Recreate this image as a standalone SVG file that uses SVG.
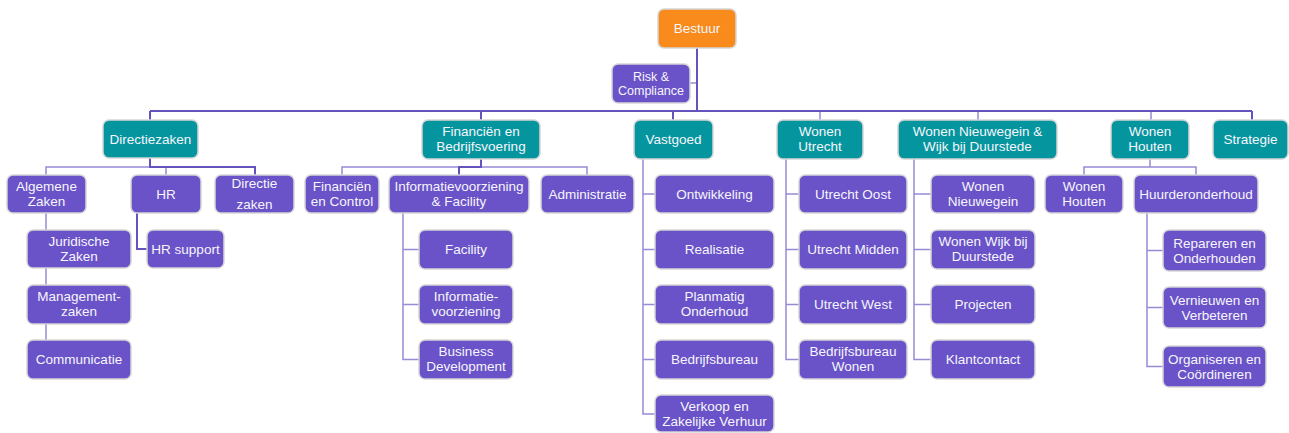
<svg xmlns="http://www.w3.org/2000/svg" width="1289" height="433" viewBox="0 0 1289 433">
<style>
rect{stroke:#d6d6d6;stroke-width:1.5}
.o{fill:#f88b1c}
.t{fill:#05959f}
.p{fill:#6a52c8}
text{font-family:"Liberation Sans",Arial,sans-serif;font-size:13.5px;fill:#f6f6fb;text-anchor:middle;dominant-baseline:central}
.s{font-size:12.5px}
.dk{fill:none;stroke:#6652bd;stroke-width:2}
.lt{fill:none;stroke:#978bd6;stroke-width:1.5}
</style>
<g id="connectors">
<path class="lt" d="M690,83H697"/>
<path class="lt" d="M820,111V120M978,111V120M1151,111V120"/>
<path class="dk" d="M697,48V111M150,111H1252M150,111V120M481,111V120M673,111V120M1252,111V120"/>
<path class="lt" d="M150,167H46V175M166,167V175"/>
<path class="dk" d="M150,158V167H255V175"/>
<path class="dk" d="M137,213V249H147"/>
<path class="lt" d="M46,213V359.5H27M46,249H27M46,304.5H27"/>
<path class="lt" d="M342,175V167H587V175"/>
<path class="dk" d="M481,159V167H459V175"/>
<path class="lt" d="M403,213V359.5H419M403,249.5H419M403,304.5H419"/>
<path class="lt" d="M643,159V414H655M643,194H655M643,249.5H655M643,304.5H655M643,359.5H655"/>
<path class="lt" d="M786,159V359.5H799M786,194H799M786,249.5H799M786,304.5H799"/>
<path class="lt" d="M914,159V359.5H931M914,194H931M914,249.5H931M914,304.5H931"/>
<path class="lt" d="M1150,159V167M1084,175V167H1196V175"/>
<path class="lt" d="M1147,213V366.5H1163M1147,250.5H1163M1147,307.5H1163"/>
</g>
<g id="bestuur"><rect class="o" x="658" y="9" width="78" height="39" rx="6"/><text x="697" y="28.5">Bestuur</text></g>
<g id="risk-compliance"><rect class="p" x="612" y="64" width="78" height="39" rx="6"/><text class="s" x="651" y="77">Risk &amp;</text><text class="s" x="651" y="91">Compliance</text></g>
<g id="directiezaken"><rect class="t" x="103" y="120" width="95" height="38" rx="6"/><text x="150.5" y="139">Directiezaken</text></g>
<g id="financien-bedrijfsvoering"><rect class="t" x="422" y="120" width="118" height="39" rx="6"/><text x="481" y="131">Financiën en</text><text x="481" y="146">Bedrijfsvoering</text></g>
<g id="vastgoed"><rect class="t" x="634" y="120" width="79" height="39" rx="6"/><text x="673.5" y="139">Vastgoed</text></g>
<g id="wonen-utrecht"><rect class="t" x="777" y="120" width="86" height="39" rx="6"/><text x="820" y="131">Wonen</text><text x="820" y="146">Utrecht</text></g>
<g id="wonen-nieuwegein-wijk"><rect class="t" x="898" y="120" width="159" height="39" rx="6"/><text x="977.5" y="131">Wonen Nieuwegein &amp;</text><text x="977.5" y="146">Wijk bij Duurstede</text></g>
<g id="wonen-houten"><rect class="t" x="1111" y="120" width="78" height="39" rx="6"/><text x="1150" y="131">Wonen</text><text x="1150" y="146">Houten</text></g>
<g id="strategie"><rect class="t" x="1213" y="120" width="75" height="39" rx="6"/><text x="1250.5" y="139">Strategie</text></g>
<g id="algemene-zaken"><rect class="p" x="7" y="175" width="79" height="38" rx="6"/><text x="46.5" y="186">Algemene</text><text x="46.5" y="201">Zaken</text></g>
<g id="hr"><rect class="p" x="131" y="175" width="70" height="38" rx="6"/><text x="166" y="194">HR</text></g>
<g id="directie-zaken"><rect class="p" x="215" y="175" width="79" height="38" rx="6"/><text x="254.5" y="183">Directie</text><text x="254.5" y="204">zaken</text></g>
<g id="financien-control"><rect class="p" x="305" y="175" width="74" height="38" rx="6"/><text x="342" y="186">Financiën</text><text x="342" y="201">en Control</text></g>
<g id="informatievoorziening-facility"><rect class="p" x="389" y="175" width="140" height="38" rx="6"/><text x="459" y="186">Informatievoorziening</text><text x="459" y="201">&amp; Facility</text></g>
<g id="administratie"><rect class="p" x="541" y="175" width="93" height="38" rx="6"/><text x="587.5" y="194">Administratie</text></g>
<g id="ontwikkeling"><rect class="p" x="655" y="175" width="119" height="38" rx="6"/><text x="714.5" y="194">Ontwikkeling</text></g>
<g id="utrecht-oost"><rect class="p" x="799" y="175" width="108" height="38" rx="6"/><text x="853" y="194">Utrecht Oost</text></g>
<g id="wonen-nieuwegein"><rect class="p" x="931" y="175" width="104" height="38" rx="6"/><text x="983" y="186">Wonen</text><text x="983" y="201">Nieuwegein</text></g>
<g id="wonen-houten-2"><rect class="p" x="1045" y="175" width="78" height="38" rx="6"/><text x="1084" y="186">Wonen</text><text x="1084" y="201">Houten</text></g>
<g id="huurderonderhoud"><rect class="p" x="1134" y="175" width="124" height="38" rx="6"/><text x="1196" y="194">Huurderonderhoud</text></g>
<g id="juridische-zaken"><rect class="p" x="27" y="230" width="104" height="38" rx="6"/><text x="79" y="241">Juridische</text><text x="79" y="256">Zaken</text></g>
<g id="managementzaken"><rect class="p" x="27" y="285" width="104" height="39" rx="6"/><text x="79" y="296">Management-</text><text x="79" y="311">zaken</text></g>
<g id="communicatie"><rect class="p" x="27" y="340" width="104" height="39" rx="6"/><text x="79" y="359.5">Communicatie</text></g>
<g id="hr-support"><rect class="p" x="147" y="230" width="77" height="38" rx="6"/><text x="185.5" y="249">HR support</text></g>
<g id="facility"><rect class="p" x="419" y="230" width="94" height="39" rx="6"/><text x="466" y="249.5">Facility</text></g>
<g id="informatie-voorziening"><rect class="p" x="419" y="285" width="94" height="39" rx="6"/><text x="466" y="296">Informatie-</text><text x="466" y="311">voorziening</text></g>
<g id="business-development"><rect class="p" x="419" y="340" width="94" height="39" rx="6"/><text x="466" y="351">Business</text><text x="466" y="366">Development</text></g>
<g id="realisatie"><rect class="p" x="655" y="230" width="119" height="39" rx="6"/><text x="714.5" y="249.5">Realisatie</text></g>
<g id="planmatig-onderhoud"><rect class="p" x="655" y="285" width="119" height="39" rx="6"/><text x="714.5" y="296">Planmatig</text><text x="714.5" y="311">Onderhoud</text></g>
<g id="bedrijfsbureau"><rect class="p" x="655" y="340" width="119" height="39" rx="6"/><text x="714.5" y="359.5">Bedrijfsbureau</text></g>
<g id="verkoop-verhuur"><rect class="p" x="655" y="395" width="119" height="37" rx="6"/><text x="714.5" y="406">Verkoop en</text><text x="714.5" y="421">Zakelijke Verhuur</text></g>
<g id="utrecht-midden"><rect class="p" x="799" y="230" width="108" height="39" rx="6"/><text x="853" y="249.5">Utrecht Midden</text></g>
<g id="utrecht-west"><rect class="p" x="799" y="285" width="108" height="39" rx="6"/><text x="853" y="304.5">Utrecht West</text></g>
<g id="bedrijfsbureau-wonen"><rect class="p" x="799" y="340" width="108" height="39" rx="6"/><text x="853" y="351">Bedrijfsbureau</text><text x="853" y="366">Wonen</text></g>
<g id="wonen-wijk-bij-duurstede"><rect class="p" x="931" y="230" width="104" height="39" rx="6"/><text x="983" y="241">Wonen Wijk bij</text><text x="983" y="256">Duurstede</text></g>
<g id="projecten"><rect class="p" x="931" y="285" width="104" height="39" rx="6"/><text x="983" y="304.5">Projecten</text></g>
<g id="klantcontact"><rect class="p" x="931" y="340" width="104" height="39" rx="6"/><text x="983" y="359.5">Klantcontact</text></g>
<g id="repareren-onderhouden"><rect class="p" x="1163" y="230" width="103" height="41" rx="6"/><text x="1214.5" y="243">Repareren en</text><text x="1214.5" y="258">Onderhouden</text></g>
<g id="vernieuwen-verbeteren"><rect class="p" x="1163" y="287" width="103" height="41" rx="6"/><text x="1214.5" y="300">Vernieuwen en</text><text x="1214.5" y="315">Verbeteren</text></g>
<g id="organiseren-coordineren"><rect class="p" x="1163" y="346" width="103" height="41" rx="6"/><text x="1214.5" y="359">Organiseren en</text><text x="1214.5" y="374">Coördineren</text></g>
</svg>
